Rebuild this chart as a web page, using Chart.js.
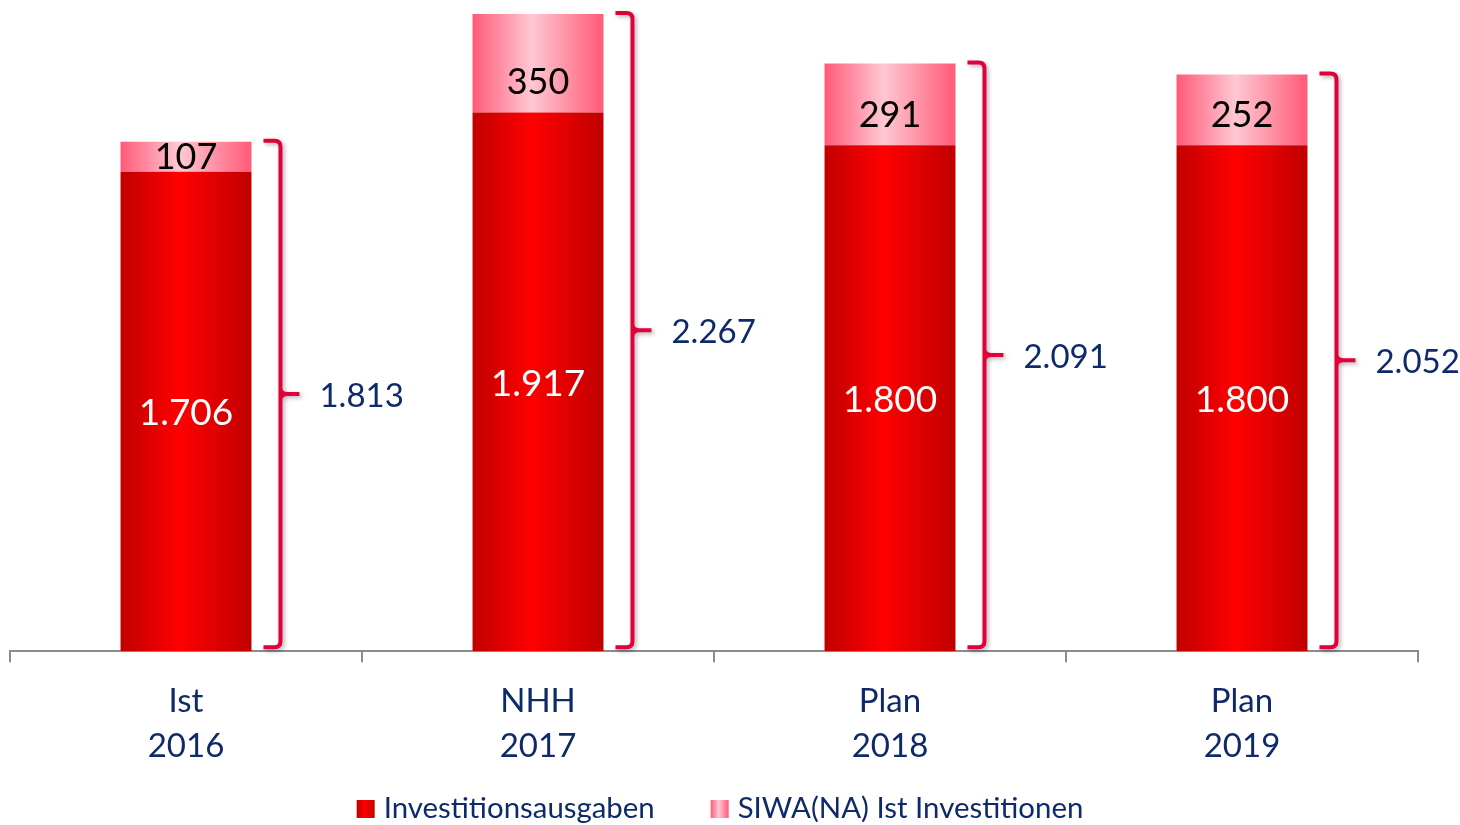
<!DOCTYPE html>
<html>
<head>
  <title>Investitionen</title>
  <script src="https://cdn.jsdelivr.net/npm/chart.js"></script>
  <style>
    html, body { margin: 0; padding: 0; background: #fff; }
    #wrap { width: 1460px; height: 825px; }
  </style>
</head>
<body>
  <div id="wrap"><canvas id="investChart"></canvas></div>
  <script>
    const categories = [['Ist', '2016'], ['NHH', '2017'], ['Plan', '2018'], ['Plan', '2019']];
    const investitionsausgaben = [1706, 1917, 1800, 1800];
    const siwaInvestitionen = [107, 350, 291, 252];
    const seriesNames = ['Investitionsausgaben', 'SIWA(NA) Ist Investitionen'];

    const FONT = 'Lato, "Open Sans", sans-serif';
    const NAVY = '#0f2a6b';
    const BAR_PCT = 0.372;
    const RED_STOPS = ['#c00000', '#ff0000', '#c00000'];
    const PINK_STOPS = ['#ff5a78', '#ffc8d3', '#ff5a78'];

    function fmt(v) {
      return String(v).replace(/\B(?=(\d{3})+(?!\d))/g, '.');
    }

    function hGradient(ctx, x0, x1, stops) {
      const g = ctx.createLinearGradient(x0, 0, x1, 0);
      g.addColorStop(0, stops[0]);
      g.addColorStop(0.45, stops[1]);
      g.addColorStop(1, stops[2]);
      return g;
    }

    // horizontal gradient across a bar, dark edges and bright middle
    function barGradient(context, stops) {
      const chart = context.chart;
      const xs = chart.scales.x;
      if (!xs || !chart.chartArea) return stops[1];
      const cx = xs.getPixelForValue(context.dataIndex);
      const w = xs.width / categories.length * BAR_PCT;
      return hGradient(chart.ctx, cx - w / 2, cx + w / 2, stops);
    }

    const bracketPlugin = {
      id: 'brackets',
      afterDatasetsDraw(chart) {
        const ctx = chart.ctx;
        const base = chart.scales.y.getPixelForValue(0);
        const top0 = chart.getDatasetMeta(0).data;
        const top1 = chart.getDatasetMeta(1).data;

        ctx.save();
        // segment labels
        ctx.textAlign = 'center';
        ctx.textBaseline = 'middle';
        top0.forEach((el, i) => {
          ctx.font = '37px ' + FONT;
          ctx.fillStyle = '#ffffff';
          ctx.fillText(fmt(investitionsausgaben[i]), el.x, (el.y + el.base) / 2 + 2);
          const e1 = top1[i];
          ctx.font = '36px ' + FONT;
          ctx.fillStyle = '#000000';
          const ly = Math.max((e1.y + e1.base) / 2, e1.base - 31);
          ctx.fillText(fmt(siwaInvestitionen[i]), e1.x, ly + 1);
        });

        // braces and totals
        top1.forEach((el, i) => {
          const right = el.x + el.width / 2;
          const x0 = right + 12;
          const xv = right + 29;
          const top = el.y - 1;
          const bottom = base - 4;
          const mid = (top + bottom) / 2;
          ctx.save();
          ctx.strokeStyle = '#e2003a';
          ctx.lineWidth = 4;
          ctx.lineJoin = 'round';
          ctx.shadowColor = 'rgba(0,0,0,0.3)';
          ctx.shadowBlur = 4;
          ctx.shadowOffsetX = 2;
          ctx.shadowOffsetY = 2;
          ctx.beginPath();
          ctx.moveTo(x0, top);
          ctx.lineTo(xv - 6, top);
          ctx.quadraticCurveTo(xv, top, xv, top + 6);
          ctx.lineTo(xv, bottom - 6);
          ctx.quadraticCurveTo(xv, bottom, xv - 6, bottom);
          ctx.lineTo(x0, bottom);
          ctx.moveTo(xv, mid - 6);
          ctx.quadraticCurveTo(xv, mid, xv + 7, mid);
          ctx.lineTo(xv + 19, mid);
          ctx.moveTo(xv, mid + 6);
          ctx.quadraticCurveTo(xv, mid, xv + 7, mid);
          ctx.stroke();
          ctx.restore();

          const total = investitionsausgaben[i] + siwaInvestitionen[i];
          ctx.fillStyle = NAVY;
          ctx.textAlign = 'left';
          ctx.textBaseline = 'middle';
          ctx.font = '33px ' + FONT;
          ctx.fillText(fmt(total), xv + 39, mid + 2);
        });
        ctx.restore();
      }
    };

    // legend with gradient swatches, centred under the plot
    const legendPlugin = {
      id: 'gradLegend',
      afterDraw(chart) {
        const ctx = chart.ctx;
        const box = 18, gapBox = 9, gapItem = 56;
        const stops = [RED_STOPS, PINK_STOPS];
        ctx.save();
        ctx.font = '29.4px ' + FONT;
        const widths = seriesNames.map(s => ctx.measureText(s).width);
        const total = widths.reduce((a, w) => a + box + gapBox + w, 0) + gapItem;
        const cy = chart.height - 16;
        let x = (chart.chartArea.left + chart.chartArea.right) / 2 - total / 2 + 6;
        seriesNames.forEach((name, i) => {
          ctx.fillStyle = hGradient(ctx, x, x + box, stops[i]);
          ctx.fillRect(x, cy - box / 2, box, box);
          x += box + gapBox;
          ctx.fillStyle = NAVY;
          ctx.textAlign = 'left';
          ctx.textBaseline = 'middle';
          ctx.fillText(name, x, cy);
          x += widths[i] + gapItem;
        });
        ctx.restore();
      }
    };

    new Chart(document.getElementById('investChart').getContext('2d'), {
      type: 'bar',
      data: {
        labels: categories,
        datasets: [{
          label: seriesNames[0],
          data: investitionsausgaben,
          backgroundColor: c => barGradient(c, RED_STOPS)
        }, {
          label: seriesNames[1],
          data: siwaInvestitionen,
          backgroundColor: c => barGradient(c, PINK_STOPS)
        }]
      },
      options: {
        responsive: true,
        maintainAspectRatio: false,
        animation: false,
        layout: { padding: { left: 10, right: 42, top: 0, bottom: 39 } },
        datasets: { bar: { categoryPercentage: 1, barPercentage: BAR_PCT, borderWidth: 0 } },
        plugins: {
          tooltip: { enabled: false },
          legend: { display: false }
        },
        scales: {
          x: {
            stacked: true,
            offset: true,
            grid: {
              offset: true,
              drawOnChartArea: false,
              drawTicks: true,
              tickLength: 11,
              color: '#8c8c8c',
              lineWidth: 2
            },
            border: { display: true, color: '#8c8c8c', width: 2 },
            ticks: {
              color: NAVY,
              font: { family: FONT, size: 33, lineHeight: 1.36 },
              padding: 17,
              maxRotation: 0
            }
          },
          y: {
            stacked: true,
            display: false,
            min: 0,
            max: 2317
          }
        }
      },
      plugins: [bracketPlugin, legendPlugin]
    });
  </script>
</body>
</html>
